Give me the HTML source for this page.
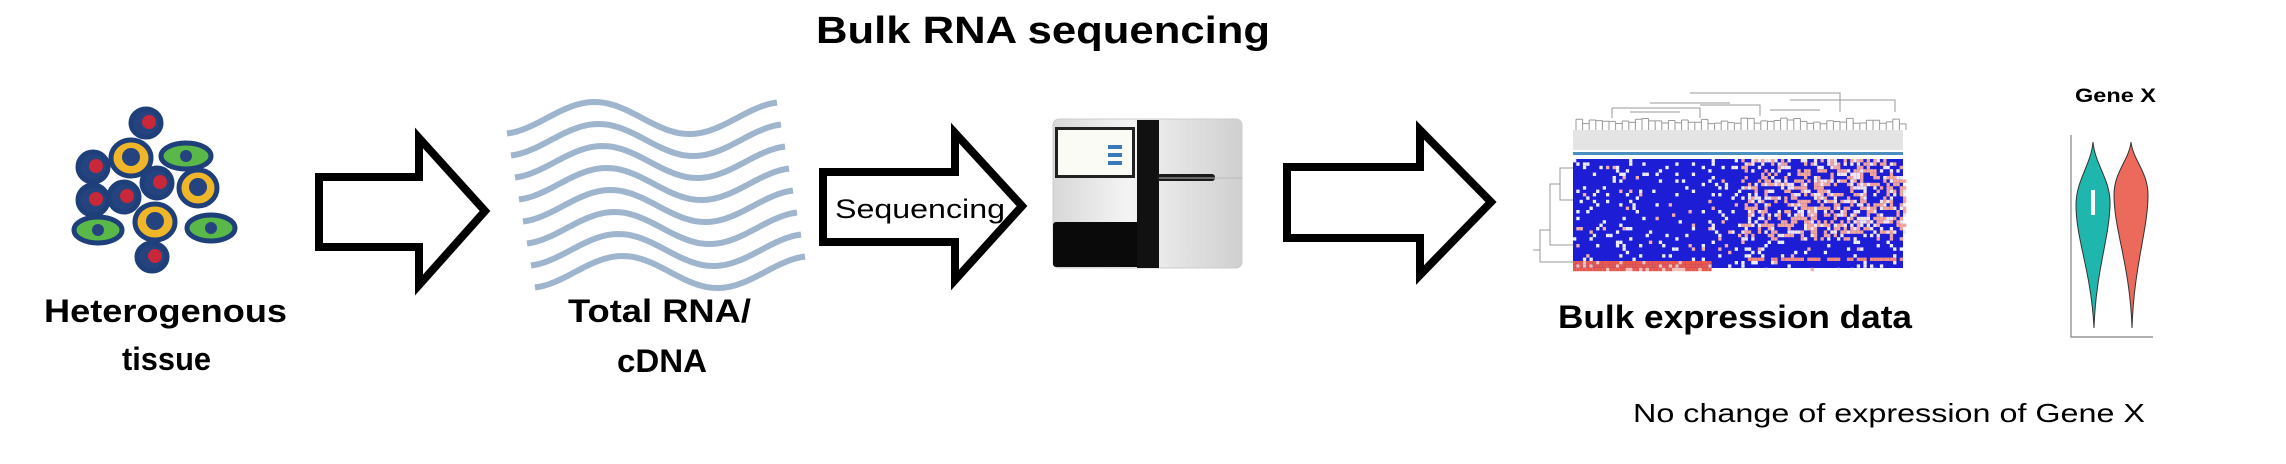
<!DOCTYPE html>
<html><head><meta charset="utf-8"><style>
html,body{margin:0;padding:0;background:#fff;}
svg{display:block;}
text{font-family:"Liberation Sans",sans-serif;}
</style></head><body>
<svg id="s" width="2286" height="464" viewBox="0 0 2286 464" xmlns="http://www.w3.org/2000/svg">
<rect width="2286" height="464" fill="#fff"/>
<defs>
<linearGradient id="body" x1="0" x2="1" y1="0" y2="0"><stop offset="0" stop-color="#d8d8d8"/><stop offset="0.4" stop-color="#f4f4f4"/><stop offset="1" stop-color="#cfcfcf"/></linearGradient>
</defs>
<text x="816" y="43" font-size="38" font-weight="bold" textLength="454" lengthAdjust="spacingAndGlyphs">Bulk RNA sequencing</text>

<g stroke="#1f3f7a" stroke-width="5">
<ellipse cx="146" cy="123" rx="15" ry="14" fill="#25447f"/>
<ellipse cx="186" cy="156" rx="25" ry="13" fill="#5ab848"/>
<ellipse cx="131" cy="158" rx="20" ry="18" fill="#f0b62a"/>
<ellipse cx="93" cy="167" rx="15" ry="15" fill="#25447f"/>
<ellipse cx="157" cy="183" rx="15" ry="15" fill="#25447f"/>
<ellipse cx="198" cy="188" rx="19" ry="18" fill="#f0b62a"/>
<ellipse cx="93" cy="200" rx="15" ry="15" fill="#25447f"/>
<ellipse cx="124" cy="197" rx="15" ry="15" fill="#25447f"/>
<ellipse cx="155" cy="222" rx="20" ry="18" fill="#f0b62a"/>
<ellipse cx="98" cy="230" rx="24" ry="13" fill="#5ab848"/>
<ellipse cx="211" cy="228" rx="24" ry="13" fill="#5ab848"/>
<ellipse cx="152" cy="257" rx="15" ry="14" fill="#25447f"/>
</g>
<g fill="#c8283a">
<circle cx="149" cy="122" r="7"/><circle cx="96" cy="166" r="7"/><circle cx="160" cy="182" r="7"/><circle cx="96" cy="199" r="7"/><circle cx="127" cy="196" r="7"/><circle cx="155" cy="256" r="7"/>
</g>
<g fill="#25447f"><circle cx="131" cy="157" r="9"/><circle cx="198" cy="187" r="9"/><circle cx="155" cy="221" r="9"/><circle cx="186" cy="156" r="6"/><circle cx="98" cy="230" r="6"/><circle cx="211" cy="228" r="6"/></g>

<g fill="#fff" stroke="#000" stroke-width="8" stroke-linejoin="miter">
<polygon points="319,177 419,177 419,138 485,211 419,285 419,247 319,247"/>
<polygon points="823,172 955,172 955,133 1022,206 955,280 955,242 823,242"/>
<polygon points="1287,167 1420,167 1420,130 1491,202 1420,275 1420,238 1287,238"/>
</g>
<text x="835" y="218" font-size="27" textLength="170" lengthAdjust="spacingAndGlyphs">Sequencing</text>

<g id="waves" fill="none" stroke="#9fb5cd" stroke-width="6"></g>

<g font-weight="bold" font-size="32">
<text x="44" y="322" textLength="243" lengthAdjust="spacingAndGlyphs">Heterogenous</text>
<text x="122" y="370" textLength="89" lengthAdjust="spacingAndGlyphs">tissue</text>
<text x="568" y="322" textLength="183" lengthAdjust="spacingAndGlyphs">Total RNA/</text>
<text x="617" y="372" textLength="90" lengthAdjust="spacingAndGlyphs">cDNA</text>
<text x="1558" y="328" textLength="354" lengthAdjust="spacingAndGlyphs">Bulk expression data</text>
</g>

<rect x="1053" y="119" width="189" height="149" rx="6" fill="url(#body)" stroke="#ccc"/>
<rect x="1055" y="127" width="80" height="51" fill="#222"/>
<rect x="1058" y="130" width="74" height="45" fill="#fbfbf6"/>
<rect x="1108" y="145" width="14" height="4" fill="#3a7ab8"/><rect x="1108" y="153" width="14" height="4" fill="#3a7ab8"/><rect x="1108" y="161" width="14" height="4" fill="#3a7ab8"/>
<rect x="1053" y="222" width="88" height="45" rx="3" fill="#0a0a0a"/>
<rect x="1137" y="120" width="22" height="148" fill="#111"/>
<rect x="1157" y="174" width="58" height="7" rx="3" fill="#1a1a1a"/>
<line x1="1159" y1="178" x2="1242" y2="178" stroke="#bbb"/>

<g id="dendro" fill="none" stroke="#999" stroke-width="1"></g>
<rect x="1573" y="130" width="330" height="20" fill="#e4e4e4"/>
<rect x="1573" y="152" width="330" height="3" fill="#4a8fc0"/>
<rect x="1573" y="159" width="330" height="109" fill="#1d1dd6"/>
<g id="hm"></g>

<text x="2075" y="102" font-size="19" font-weight="bold" textLength="81" lengthAdjust="spacingAndGlyphs">Gene X</text>
<polyline points="2071,135 2071,337 2153,337" fill="none" stroke="#999" stroke-width="1.5"/>
<path d="M2093,142 C2095,165 2111,180 2110,205 C2109,240 2096,270 2094,328 C2091,270 2076,240 2076,205 C2076,180 2091,165 2093,142Z" fill="#1fb6ae" stroke="#333" stroke-width="1"/>
<path d="M2131,142 C2133,160 2148,172 2148,195 C2148,230 2134,265 2132,328 C2130,265 2114,230 2114,195 C2114,172 2129,160 2131,142Z" fill="#ec6a5c" stroke="#333" stroke-width="1"/>
<rect x="2091" y="190" width="4" height="25" fill="#fff"/>

<text x="1633" y="422" font-size="26" textLength="512" lengthAdjust="spacingAndGlyphs">No change of expression of Gene X</text>
</svg>
<script>
var NS="http://www.w3.org/2000/svg";
var w=document.getElementById("waves");
for(var i=0;i<8;i++){
 var y0=118+22*i, x0=507+4*i, d="";
 for(var x=0;x<=270;x+=3){
  var y=y0-16*Math.sin((x-40)/190*2*Math.PI);
  d+=(x?"L":"M")+(x0+x).toFixed(1)+","+y.toFixed(1);
 }
 var p=document.createElementNS(NS,"path");p.setAttribute("d",d);w.appendChild(p);
}
var seed=7;function r(){seed=(seed*16807)%2147483647;return seed/2147483647;}
var hm=document.getElementById("hm"),cw=3.3,ch=3.4;
for(var yy=159;yy<268;yy+=ch){
 for(var xx=1573;xx<1903;xx+=cw){
  var c=null,q=r();
  var right=xx>1740, up=yy<238;
  if(yy>=259 && xx<1710){c=q<0.8?"#e8584c":"#f5c0b8";}
  else if(yy>=256&&yy<259&&xx>1745){c=q<0.7?"#f08a80":null;}
  else if(right&&up){ if(q<0.35)c="#f2a59a";else if(q<0.55)c="#f1e6f0";}
  else { if(q<0.08)c="#eeeefa";else if(q<0.1)c="#f2b0a8";}
  if(c){var e=document.createElementNS(NS,"rect");e.setAttribute("x",xx.toFixed(1));e.setAttribute("y",yy.toFixed(1));e.setAttribute("width",cw);e.setAttribute("height",ch);e.setAttribute("fill",c);hm.appendChild(e);}
 }
}
var dg=document.getElementById("dendro"),dd="";
for(var k=0;k<50;k++){var x=1576+k*6.6;var h=118+r()*6;dd+="M"+x+",130V"+h+"M"+x+","+h+"H"+(x+6.6)+"M"+(x+6.6)+","+h+"V130";}
dd+="M1612,108V118M1612,108H1700V118M1700,105H1760V116M1650,103H1730M1690,93H1840V103M1840,103V112M1790,100H1895V112M1630,112H1680M1770,110H1820";
dd+="M1573,168H1560V200H1573M1560,184H1550V245H1573M1550,230H1540V262H1573M1540,250H1533";
var pp=document.createElementNS(NS,"path");pp.setAttribute("d",dd);dg.appendChild(pp);
</script>
</body></html>
